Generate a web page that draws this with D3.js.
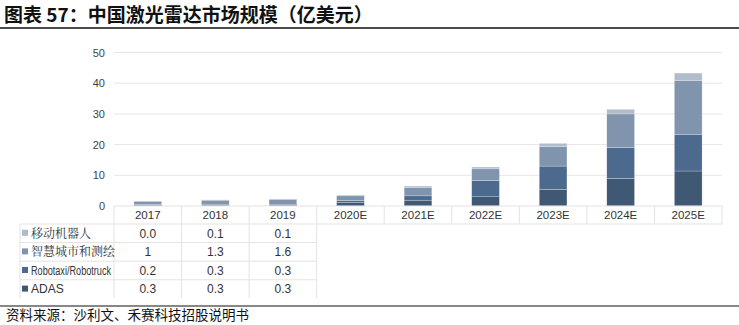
<!DOCTYPE html>
<html><head><meta charset="utf-8">
<script src="https://cdn.jsdelivr.net/npm/d3@7/dist/d3.min.js"></script>
<style>
body{margin:0;background:#fff;}
svg{display:block;}
</style></head>
<body>
<svg id="chart" width="739" height="325"></svg>
<script>
const categories = ["2017","2018","2019","2020E","2021E","2022E","2023E","2024E","2025E"];
const seriesNames = ["移动机器人","智慧城市和测绘","Robotaxi/Robotruck","ADAS"];
const mobileRobot = [0.0, 0.1, 0.1, 0.3, 0.4, 0.6, 1.1, 1.5, 2.4];
const smartCity   = [1, 1.3, 1.6, 1.5, 2.8, 3.8, 6.3, 11.0, 17.7];
const robotaxi    = [0.2, 0.3, 0.3, 0.7, 1.4, 5.3, 7.6, 10.0, 11.8];
const adas        = [0.3, 0.3, 0.3, 1.1, 1.9, 3.0, 5.4, 9.0, 11.4];
const tableLabels = [["0.0","0.1","0.1"],["1","1.3","1.6"],["0.2","0.3","0.3"],["0.3","0.3","0.3"]];
const yTicks = [0,10,20,30,40,50];
const colors = {"ADAS":"#3f5873","Robotaxi/Robotruck":"#4b6a8d","智慧城市和测绘":"#8094ad","移动机器人":"#b1bccb"};

const svg = d3.select("#chart");
const left = 114, right = 722, y0 = 206, yTop = 52.5;
const narrow = "'Liberation Sans',sans-serif";

// title
svg.append("text").attr("x",4).attr("y",22).text("图表 57：中国激光雷达市场规模（亿美元）")
  .attr("font-family","'Noto Sans CJK SC'").attr("font-weight","bold").attr("font-size",19).attr("fill","#111");
svg.append("line").attr("x1",0).attr("x2",739).attr("y1",28).attr("y2",28).attr("stroke","#111").attr("stroke-width",1.5);

const x = d3.scaleBand().domain(categories).range([left,right]).padding(0);
const y = d3.scaleLinear().domain([0,50]).range([y0,yTop]);

// gridlines
svg.append("g").selectAll("line").data(yTicks.filter(d=>d>0)).join("line")
  .attr("x1",left).attr("x2",right).attr("y1",d=>y(d)).attr("y2",d=>y(d))
  .attr("stroke","#e6e6e6").attr("stroke-width",1);

// y axis
const yAxis = d3.axisLeft(y).tickValues(yTicks).tickSize(0).tickPadding(9);
const yg = svg.append("g").attr("transform",`translate(${left},0)`).call(yAxis);
yg.select(".domain").remove();
yg.selectAll("text").attr("font-family",narrow).attr("font-size",11).attr("fill","#444");

// stacked data
const rows = categories.map((c,i)=>({cat:c,"ADAS":adas[i],"Robotaxi/Robotruck":robotaxi[i],"智慧城市和测绘":smartCity[i],"移动机器人":mobileRobot[i]}));
const keys = ["ADAS","Robotaxi/Robotruck","智慧城市和测绘","移动机器人"];
const stack = d3.stack().keys(keys)(rows);
const bw = x.bandwidth()*0.41;
svg.append("g").selectAll("g").data(stack).join("g").attr("fill",d=>colors[d.key])
  .selectAll("rect").data(d=>d).join("rect")
  .attr("x",d=>x(d.data.cat)+(x.bandwidth()-bw)/2).attr("width",bw)
  .attr("y",d=>y(d[1])).attr("height",d=>Math.max(0,y(d[0])-y(d[1])))
  .attr("stroke","#ffffff").attr("stroke-width",0.4).attr("stroke-opacity",0.6);

// table
const tg = svg.append("g");
const lineC = "#e3e3e3";
const hdrBottom = 224, rowH = 18.6, tLeft = 20;
tg.append("line").attr("x1",left).attr("x2",right).attr("y1",y0).attr("y2",y0).attr("stroke",lineC);
tg.append("line").attr("x1",left).attr("x2",right).attr("y1",hdrBottom).attr("y2",hdrBottom).attr("stroke",lineC);
categories.forEach((c,i)=>{
  const bot = i<=3 ? 298 : hdrBottom;
  tg.append("line").attr("x1",x(c)).attr("x2",x(c)).attr("y1",y0).attr("y2",bot).attr("stroke",lineC);
});
tg.append("line").attr("x1",right).attr("x2",right).attr("y1",y0).attr("y2",hdrBottom).attr("stroke",lineC);
for(let r=1;r<=3;r++){
  const yy = hdrBottom + r*rowH;
  tg.append("line").attr("x1",tLeft).attr("x2",x(categories[3])).attr("y1",yy).attr("y2",yy).attr("stroke",lineC);
}
tg.append("line").attr("x1",tLeft).attr("x2",tLeft).attr("y1",hdrBottom).attr("y2",298).attr("stroke",lineC);
tg.append("line").attr("x1",tLeft).attr("x2",left).attr("y1",hdrBottom).attr("y2",hdrBottom).attr("stroke",lineC);
tg.selectAll("text.cat").data(categories).join("text").attr("class","cat")
  .attr("x",d=>x(d)+x.bandwidth()/2).attr("y",219).attr("text-anchor","middle")
  .attr("font-family",narrow).attr("font-size",11.5).attr("fill","#333").text(d=>d);
seriesNames.forEach((s,r)=>{
  const cy = hdrBottom + r*rowH + rowH/2;
  tg.append("rect").attr("x",22).attr("y",cy-3.5).attr("width",6).attr("height",6).attr("fill",colors[s]);
  const t = tg.append("text").attr("x",31).attr("y",cy+4.3).text(s)
    .attr("font-family", /[A-Za-z]/.test(s)?narrow:"'Noto Serif CJK SC','Noto Sans CJK SC'")
    .attr("font-size",12).attr("fill","#333");
  if(s==="Robotaxi/Robotruck") t.attr("textLength",80).attr("lengthAdjust","spacingAndGlyphs");
  tableLabels[r].forEach((v,i)=>{
    tg.append("text").attr("x",x(categories[i])+x.bandwidth()/2).attr("y",cy+4.3).attr("text-anchor","middle")
      .attr("font-family",narrow).attr("font-size",12).attr("fill","#333").text(v);
  });
});

// source
svg.append("line").attr("x1",0).attr("x2",739).attr("y1",306).attr("y2",306).attr("stroke","#111").attr("stroke-width",1);
svg.append("text").attr("x",6).attr("y",320).text("资料来源：沙利文、禾赛科技招股说明书")
  .attr("font-family","'Noto Sans CJK SC'").attr("font-size",13.5).attr("fill","#111");
</script>
</body></html>
